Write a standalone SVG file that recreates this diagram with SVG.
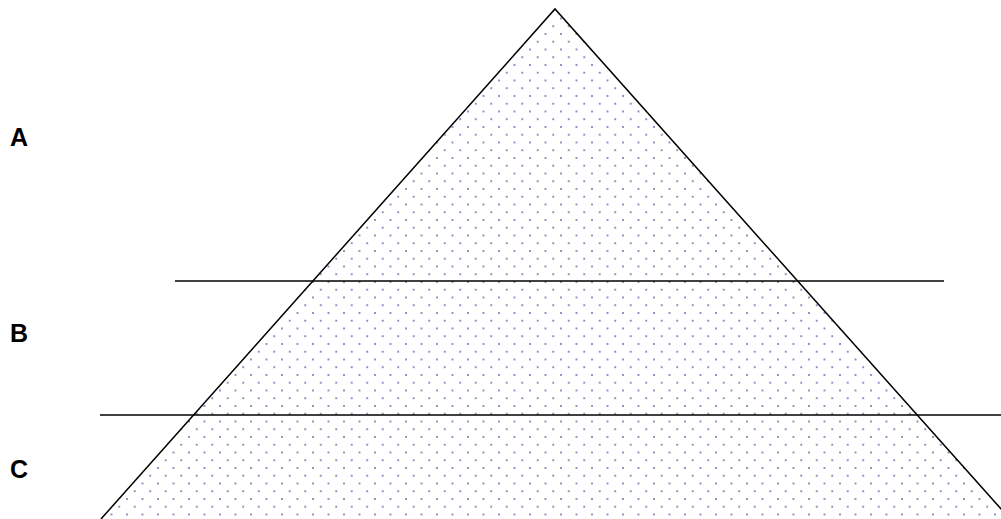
<svg xmlns="http://www.w3.org/2000/svg" width="1001" height="519" viewBox="0 0 1001 519">
<style>
.lbl{font-family:"Liberation Sans",Arial,sans-serif;font-weight:bold;font-size:25px;fill:#000}
.ln{stroke:#000;stroke-width:1.5;fill:none}
</style>
<defs>
<pattern id="dots" patternUnits="userSpaceOnUse" x="2" y="2" width="15.5" height="15.5">
<circle cx="1" cy="1" r="1" fill="#6f6fb0"/>
<circle cx="8.75" cy="8.75" r="1" fill="#6f6fb0"/>
</pattern>
</defs>
<g id="pyramid">
<polygon points="555,9 101,519 1010,519" fill="url(#dots)" stroke="none"/>
<polyline class="ln" points="101,519 555,9 1010,519"/>
</g>
<g id="connectors">
<line class="ln" x1="175" y1="281" x2="944" y2="281"/>
<line class="ln" x1="100" y1="415" x2="1001" y2="415"/>
</g>
<g id="labelA"><text class="lbl" x="10" y="146">A</text></g>
<g id="labelB"><text class="lbl" x="10" y="342">B</text></g>
<g id="labelC"><text class="lbl" x="10" y="478">C</text></g>
</svg>
